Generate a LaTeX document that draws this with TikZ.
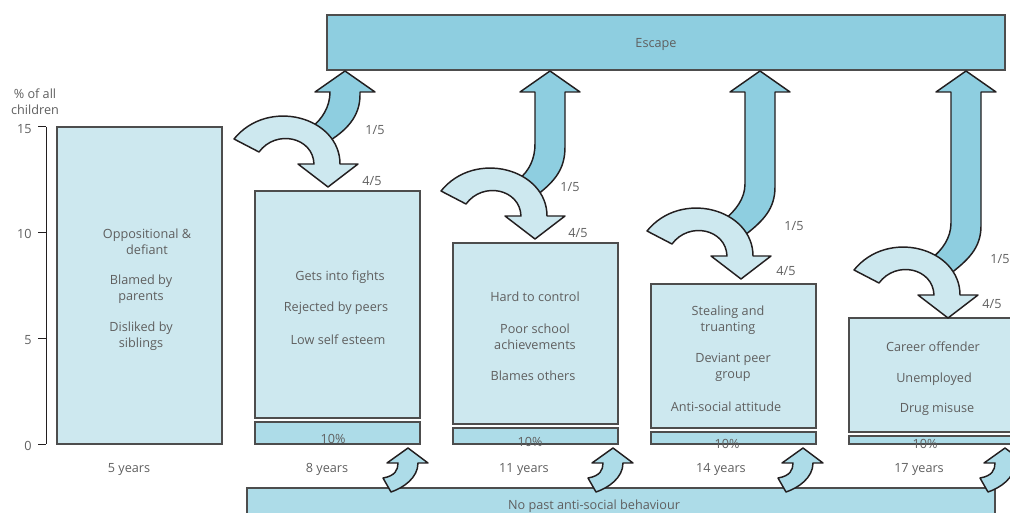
\documentclass[tikz,border=0pt]{standalone}
\usepackage{fontspec}
\setmainfont{Open Sans}
\definecolor{boxfill}{HTML}{CDE8EF}
\definecolor{escfill}{HTML}{8ECEE0}
\definecolor{basefill}{HTML}{ADDCE8}
\definecolor{edge}{HTML}{4D4D4D}
\definecolor{ink}{HTML}{231F20}
\definecolor{txt}{HTML}{5F5F5F}

\tikzset{every picture/.style={line width=0.75pt}}
\tikzset{
  stagebox/.style={draw=edge, fill=boxfill, line width=0.9},
  basebox/.style={draw=edge, fill=basefill, line width=0.9},
  splitarrow/.style={draw=ink, fill=boxfill, line width=1.1, line join=round},
  exitarrow/.style={draw=ink, fill=escfill, line width=1.1, line join=round},
  backarrow/.style={draw=ink, fill=basefill, line width=1.1, line join=round},
  lbl/.style={text=txt, font=\fontsize{9.5pt}{12pt}\selectfont, align=center, inner sep=0.75pt, yshift=-1.3pt},
}

\begin{document}
\begin{tikzpicture}[x=0.75pt,y=0.75pt,yscale=-1,xscale=1]
\useasboundingbox (0,0) rectangle (1010,513);

%Shape: Rectangle [escape]
\draw [basebox, fill=escfill] (327,15) -- (1005,15) -- (1005,70) -- (327,70) -- cycle ;
%Shape: Rectangle [no past]
\draw [basebox] (247,488) -- (995,488) -- (995,520) -- (247,520) -- cycle ;

%Straight Lines [axis]
\draw [draw=ink] (46,127) -- (46,444) ;
\draw [draw=ink] (38,127) -- (46,127) ;
\draw [draw=ink] (38,232.7) -- (46,232.7) ;
\draw [draw=ink] (38,338.3) -- (46,338.3) ;
\draw [draw=ink] (38,444) -- (46,444) ;

%Shape: Rectangle [5 years]
\draw [stagebox] (57,127) -- (222,127) -- (222,444) -- (57,444) -- cycle ;
%Shape: Rectangle [8 years]
\draw [stagebox] (255,191) -- (420,191) -- (420,418) -- (255,418) -- cycle ;
\draw [basebox] (255,422) -- (420,422) -- (420,444) -- (255,444) -- cycle ;
%Shape: Rectangle [11 years]
\draw [stagebox] (453,243) -- (618,243) -- (618,424) -- (453,424) -- cycle ;
\draw [basebox] (453,428) -- (618,428) -- (618,444) -- (453,444) -- cycle ;
%Shape: Rectangle [14 years]
\draw [stagebox] (651,284) -- (816,284) -- (816,428) -- (651,428) -- cycle ;
\draw [basebox] (651,432) -- (816,432) -- (816,444) -- (651,444) -- cycle ;
%Shape: Rectangle [17 years]
\draw [stagebox] (849,318) -- (1014,318) -- (1014,432) -- (849,432) -- cycle ;
\draw [basebox] (849,436) -- (1014,436) -- (1014,444) -- (849,444) -- cycle ;

%Shape: Arrows up to escape
\draw [exitarrow, shift={(328,187)}] (-2,-44) .. controls (18,-56) and (32,-70) .. (32,-92) -- (32,-95) -- (47,-95) -- (17,-116) -- (-13,-95) -- (2,-95) .. controls (2,-80) and (-6,-68) .. (-16,-60) -- cycle ;
\draw [exitarrow, shift={(535,239)}] (2,-44) .. controls (20,-58) and (30,-70) .. (30,-92) -- (30,-147) -- (45,-147) -- (15,-168) -- (-15,-147) -- (0,-147) -- (0,-95) .. controls (0,-80) and (-6,-68) .. (-16,-60) -- cycle ;
\draw [exitarrow, shift={(741,279)}] (4,-44) .. controls (22,-58) and (34,-70) .. (34,-92) -- (34,-187) -- (49,-187) -- (19,-208) -- (-11,-187) -- (4,-187) -- (4,-95) .. controls (4,-80) and (-6,-68) .. (-16,-60) -- cycle ;
\draw [exitarrow, shift={(948,318)}] (2,-44) .. controls (20,-58) and (33,-70) .. (33,-92) -- (33,-226) -- (48,-226) -- (18,-247) -- (-12,-226) -- (3,-226) -- (3,-95) .. controls (3,-80) and (-6,-68) .. (-16,-60) -- cycle ;

%Shape: Curved arrows to next stage
\draw [splitarrow, shift={(328,187)}] (0,0) -- (30,-23) -- (12,-23) .. controls (12,-70) and (-60,-90) .. (-94,-48) -- (-69,-35) .. controls (-52,-58) and (-15,-50) .. (-14,-23) -- (-30,-23) -- cycle ;
\draw [splitarrow, shift={(535,239)}] (0,0) -- (30,-23) -- (12,-23) .. controls (12,-70) and (-60,-90) .. (-94,-48) -- (-69,-35) .. controls (-52,-58) and (-15,-50) .. (-14,-23) -- (-30,-23) -- cycle ;
\draw [splitarrow, shift={(741,279)}] (0,0) -- (30,-23) -- (12,-23) .. controls (12,-70) and (-60,-90) .. (-94,-48) -- (-69,-35) .. controls (-52,-58) and (-15,-50) .. (-14,-23) -- (-30,-23) -- cycle ;
\draw [splitarrow, shift={(948,318)}] (0,0) -- (30,-23) -- (12,-23) .. controls (12,-70) and (-60,-90) .. (-94,-48) -- (-69,-35) .. controls (-52,-58) and (-15,-50) .. (-14,-23) -- (-30,-23) -- cycle ;

%Shape: Small arrows from no past
\draw [backarrow, shift={(408,448)}] (0,0) -- (20,15) -- (10,15) .. controls (10,30) and (-5,40) .. (-17,44) -- (-25,30) .. controls (-13,28) and (-10,22) .. (-10,15) -- (-21,15) -- cycle ;
\draw [backarrow, shift={(613,448)}] (0,0) -- (20,15) -- (10,15) .. controls (10,30) and (-5,40) .. (-17,44) -- (-25,30) .. controls (-13,28) and (-10,22) .. (-10,15) -- (-21,15) -- cycle ;
\draw [backarrow, shift={(803,448)}] (0,0) -- (20,15) -- (10,15) .. controls (10,30) and (-5,40) .. (-17,44) -- (-25,30) .. controls (-13,28) and (-10,22) .. (-10,15) -- (-21,15) -- cycle ;
\draw [backarrow, shift={(1005,448)}] (0,0) -- (20,15) -- (10,15) .. controls (10,30) and (-5,40) .. (-17,44) -- (-25,30) .. controls (-13,28) and (-10,22) .. (-10,15) -- (-21,15) -- cycle ;

% Text Node
\draw (656,43) node [lbl] (escape) {Escape};
% Text Node
\draw (594,504) node [lbl] (nopast) {No past anti-social behaviour};
% Text Node
\draw (35,100) node [lbl] (axtitle) {\% of all\\children};
% Text Node
\draw (33,127) node [lbl, anchor=east] (y15) {15};
\draw (33,232.7) node [lbl, anchor=east] (y10) {10};
\draw (33,338.3) node [lbl, anchor=east] (y5) {5};
\draw (33,444) node [lbl, anchor=east] (y0) {0};

% Text Node
\draw (147,240) node [lbl] (oppos) {Oppositional \&\\defiant};
\draw (141,287) node [lbl] (blamed) {Blamed by\\parents};
\draw (141,334) node [lbl] (disliked) {Disliked by\\siblings};
% Text Node
\draw (340,275) node [lbl] (fights) {Gets into fights};
\draw (336,306) node [lbl] (rejected) {Rejected by peers};
\draw (338,338) node [lbl] (esteem) {Low self esteem};
% Text Node
\draw (535,295) node [lbl] (control) {Hard to control};
\draw (535,335) node [lbl] (school) {Poor school\\achievements};
\draw (533,374) node [lbl] (blames) {Blames others};
% Text Node
\draw (728,318) node [lbl] (stealing) {Stealing and\\truanting};
\draw (733,366) node [lbl] (deviant) {Deviant peer\\group};
\draw (726,405) node [lbl] (attitude) {Anti-social attitude};
% Text Node
\draw (933,345) node [lbl] (career) {Career offender};
\draw (934,377) node [lbl] (unemployed) {Unemployed};
\draw (937,408) node [lbl] (drugs) {Drug misuse};

% Text Node
\draw (333,437) node [lbl] (pct8) {10\%};
\draw (530,440) node [lbl] (pct11) {10\%};
\draw (727,442) node [lbl] (pct14) {10\%};
\draw (925,442) node [lbl] (pct17) {10\%};
% Text Node
\draw (129,468) node [lbl] (age5) {5 years};
\draw (327,468) node [lbl] (age8) {8 years};
\draw (524,468) node [lbl] (age11) {11 years};
\draw (721,468) node [lbl] (age14) {14 years};
\draw (919,468) node [lbl] (age17) {17 years};

% Text Node
\draw (375,128) node [lbl] (out8) {1/5};
\draw (372,179) node [lbl] (on8) {4/5};
\draw (570,185) node [lbl] (out11) {1/5};
\draw (578,231) node [lbl] (on11) {4/5};
\draw (794,224) node [lbl] (out14) {1/5};
\draw (786,269) node [lbl] (on14) {4/5};
\draw (1000,257) node [lbl] (out17) {1/5};
\draw (992,302) node [lbl] (on17) {4/5};

\end{tikzpicture}
\end{document}
